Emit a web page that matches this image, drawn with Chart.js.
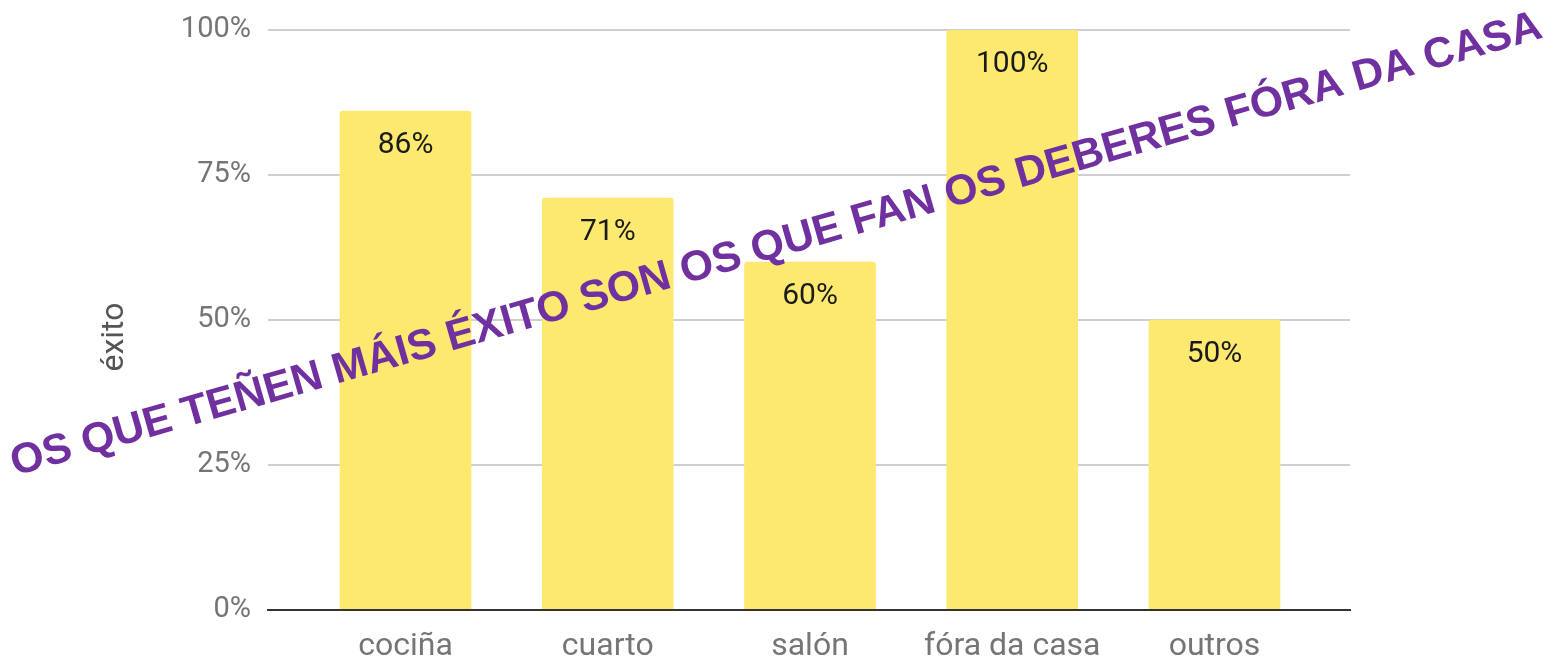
<!DOCTYPE html>
<html>
<head>
<meta charset="utf-8">
<script src="https://cdn.jsdelivr.net/npm/chart.js@4"></script>
<style>
  html, body { margin: 0; padding: 0; background: #fff; }
  #wrap { width: 1561px; height: 662px; }
</style>
</head>
<body>
<div id="wrap"><canvas id="chart"></canvas></div>
<script>
var categories = ['cociña', 'cuarto', 'salón', 'fóra da casa', 'outros'];
var exito = [86, 71, 60, 100, 50];
var yTicks = [0, 25, 50, 75, 100];
var yTitle = 'éxito';
var banner = 'OS QUE TEÑEN MÁIS ÉXITO SON OS QUE FAN OS DEBERES FÓRA DA CASA';

// value labels inside the top of each bar
var barLabels = {
  id: 'barLabels',
  afterDatasetsDraw: function(chart) {
    var ctx = chart.ctx;
    var meta = chart.getDatasetMeta(0);
    ctx.save();
    ctx.font = '30px Roboto';
    ctx.fillStyle = '#1a1a1a';
    ctx.textAlign = 'center';
    ctx.textBaseline = 'middle';
    meta.data.forEach(function(bar, i) {
      ctx.fillText(exito[i] + '%', bar.x, bar.y + 34);
    });
    ctx.restore();
  }
};

// axis title sits a bit below the middle of the plot in the original
var axisTitle = {
  id: 'axisTitle',
  afterDraw: function(chart) {
    var ctx = chart.ctx;
    ctx.save();
    ctx.translate(115, 337);
    ctx.rotate(-Math.PI / 2);
    ctx.font = '32px Roboto';
    ctx.fillStyle = '#555';
    ctx.textAlign = 'center';
    ctx.textBaseline = 'middle';
    ctx.fillText(yTitle, 0, 0);
    ctx.restore();
  }
};

// the purple slanted headline across the chart
var bannerText = {
  id: 'bannerText',
  afterDraw: function(chart) {
    var ctx = chart.ctx;
    var x0 = 15, y0 = 476, x1 = 1545, y1 = 37;
    var len = Math.sqrt((x1 - x0) * (x1 - x0) + (y1 - y0) * (y1 - y0));
    ctx.save();
    ctx.font = 'bold 44px "Liberation Sans", Arial, sans-serif';
    var w = ctx.measureText(banner).width;
    var size = 44 * len / w;
    ctx.font = 'bold ' + size.toFixed(1) + 'px "Liberation Sans", Arial, sans-serif';
    ctx.translate(x0, y0);
    ctx.rotate(Math.atan2(y1 - y0, x1 - x0));
    ctx.fillStyle = '#7030a0';
    ctx.textAlign = 'left';
    ctx.textBaseline = 'alphabetic';
    ctx.fillText(banner, 0, 0);
    ctx.restore();
  }
};

var points = exito.map(function(v, i) { return { x: i, y: v }; });

new Chart(document.getElementById('chart'), {
  type: 'bar',
  data: {
    datasets: [{
      label: yTitle,
      data: points,
      backgroundColor: '#fde96f',
      barThickness: 131,
      borderRadius: { topLeft: 3, topRight: 3 },
      borderSkipped: 'bottom'
    }]
  },
  options: {
    responsive: true,
    maintainAspectRatio: false,
    animation: false,
    layout: { padding: { left: 100, right: 211, top: 30, bottom: 0 } },
    plugins: {
      legend: { display: false },
      tooltip: { enabled: false }
    },
    scales: {
      x: {
        type: 'linear',
        offset: false,
        min: -0.68,
        max: 4.67,
        afterBuildTicks: function(scale) {
          scale.ticks = categories.map(function(c, i) { return { value: i }; });
        },
        afterFit: function(scale) {
          scale.height = 52;
          scale.paddingLeft = 0;
          scale.paddingRight = 0;
        },
        grid: { display: false, drawTicks: false },
        border: { display: true, color: '#333', width: 2, z: 1 },
        ticks: {
          autoSkip: false,
          maxRotation: 0,
          padding: 18,
          color: '#757575',
          font: { family: 'Roboto', size: 32 },
          callback: function(v) { return categories[v]; }
        }
      },
      y: {
        min: 0,
        max: 100,
        afterBuildTicks: function(scale) {
          scale.ticks = yTicks.map(function(v) { return { value: v }; });
        },
        afterFit: function(scale) {
          scale.width = 168;
          scale.paddingTop = 0;
          scale.paddingBottom = 0;
        },
        grid: { color: '#cfcfcf', lineWidth: 2, drawTicks: false },
        border: { display: false },
        ticks: {
          padding: 17,
          color: '#757575',
          font: { family: 'Roboto', size: 29 },
          callback: function(v) { return v + '%'; }
        }
      }
    }
  },
  plugins: [barLabels, axisTitle, bannerText]
});
</script>
</body>
</html>
